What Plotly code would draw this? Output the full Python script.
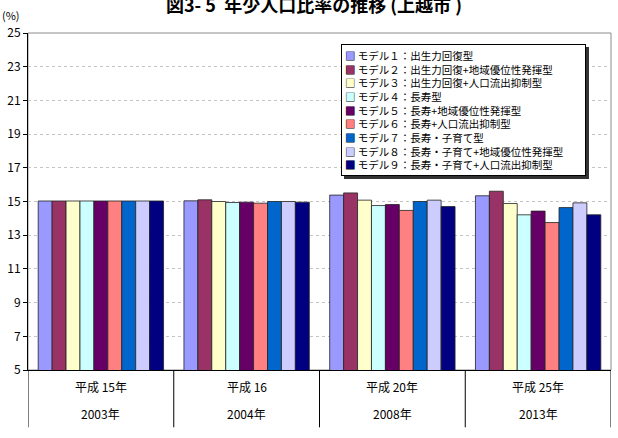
import plotly.graph_objects as go

years_wareki = ["平成 15年", "平成 16", "平成 20年", "平成 25年"]
years_ad = ["2003年", "2004年", "2008年", "2013年"]

model_names = [
    "モデル１：出生力回復型",
    "モデル２：出生力回復+地域優位性発揮型",
    "モデル３：出生力回復+人口流出抑制型",
    "モデル４：長寿型",
    "モデル５：長寿+地域優位性発揮型",
    "モデル６：長寿+人口流出抑制型",
    "モデル７：長寿・子育て型",
    "モデル８：長寿・子育て+地域優位性発揮型",
    "モデル９：長寿・子育て+人口流出抑制型",
]
colors = ["#9999FF", "#993366", "#FFFFCC", "#CCFFFF", "#660066",
          "#FF8080", "#0066CC", "#CCCCFF", "#000080"]

m1 = [15.03, 15.04, 15.38, 15.34]
m2 = [15.03, 15.10, 15.51, 15.61]
m3 = [15.03, 15.00, 15.08, 14.88]
m4 = [15.03, 14.94, 14.76, 14.21]
m5 = [15.03, 14.96, 14.82, 14.43]
m6 = [15.03, 14.90, 14.47, 13.75]
m7 = [15.03, 15.00, 15.00, 14.64]
m8 = [15.03, 15.00, 15.08, 14.92]
m9 = [15.03, 14.96, 14.70, 14.21]
series = [m1, m2, m3, m4, m5, m6, m7, m8, m9]

font_family = "Noto Sans CJK JP, sans-serif"
x_idx = list(range(len(years_ad)))

fig = go.Figure()
for name, col, vals in zip(model_names, colors, series):
    fig.add_trace(go.Bar(
        x=x_idx, y=vals, name=name, marker_color=col,
        marker_line_color="#222222", marker_line_width=0.8,
        showlegend=False,
    ))

# plot frame (top/right gray)
fig.add_shape(type="rect", xref="paper", yref="paper", x0=0, x1=1, y0=0, y1=1,
              line=dict(color="#8c8c8c", width=1), layer="below")

# category separators below axis
for b in [-0.5, 0.5, 1.5, 2.5, 3.5]:
    fig.add_shape(type="line", xref="x", yref="paper", x0=b, x1=b, y0=0, y1=-0.17,
                  line=dict(color="#000000", width=1))

annotations = []
for i, (w, a) in enumerate(zip(years_wareki, years_ad)):
    annotations.append(dict(x=i, y=-0.0504, xref="x", yref="paper", text=w,
                            showarrow=False, yanchor="middle",
                            font=dict(size=12, color="#000000", family=font_family)))
    annotations.append(dict(x=i, y=-0.1276, xref="x", yref="paper", text=a,
                            showarrow=False, yanchor="middle",
                            font=dict(size=12, color="#000000", family=font_family)))

# title, unit, note
annotations.append(dict(x=0.49, y=1.087, xref="paper", yref="paper",
                        text="<b>図3- 5  年少人口比率の推移 (上越市 )</b>", showarrow=False,
                        yanchor="middle", font=dict(size=18, color="#000000", family=font_family)))
annotations.append(dict(x=-0.010, y=1.053, xref="paper", yref="paper", text="(%)",
                        showarrow=False, xanchor="right", yanchor="middle",
                        font=dict(size=11, color="#000000", family=font_family)))
annotations.append(dict(x=0.012, y=-0.2196, xref="paper", yref="paper",
                        text="(注) 2003 (平成 15) 年は実績値", showarrow=False,
                        xanchor="left", yanchor="middle",
                        font=dict(size=12, color="#000000", family=font_family)))

# legend box built from the series names / colours
leg_lines = [f"<span style='color:{c}'>■</span> {n}" for n, c in zip(model_names, colors)]
leg_text = "<br>".join(leg_lines)
box_lines = "<br>".join(["□" for _ in model_names])
lx, ly = 0.537, 0.967
legw = 237
annotations.append(dict(x=lx, y=ly, xref="paper", yref="paper", text=leg_text,
                        showarrow=False, xanchor="left", yanchor="top", align="left",
                        width=legw, xshift=3, yshift=-3, bgcolor="#333333", bordercolor="#333333",
                        borderwidth=1, borderpad=3,
                        font=dict(size=10.5, color="rgba(0,0,0,0)", family=font_family)))
annotations.append(dict(x=lx, y=ly, xref="paper", yref="paper", text=leg_text,
                        showarrow=False, xanchor="left", yanchor="top", align="left",
                        width=legw, bgcolor="#FFFFFF", bordercolor="#000000", borderwidth=1, borderpad=3,
                        font=dict(size=10.5, color="#000000", family=font_family)))
annotations.append(dict(x=lx, y=ly, xref="paper", yref="paper", text=box_lines,
                        showarrow=False, xanchor="left", yanchor="top", align="left",
                        width=legw, bordercolor="rgba(0,0,0,0)", borderwidth=1, borderpad=3,
                        font=dict(size=10.5, color="#000000", family=font_family)))

fig.update_layout(
    width=618, height=438,
    margin=dict(l=19, r=7, t=33, b=68),
    paper_bgcolor="#FFFFFF", plot_bgcolor="#FFFFFF",
    barmode="group", bargap=0.14, bargroupgap=0,
    font=dict(family=font_family, size=12, color="#000000"),
    annotations=annotations,
    xaxis=dict(range=[-0.5, 3.5], tickvals=x_idx, showticklabels=False,
               showline=True, linecolor="#000000", linewidth=1, ticks="",
               showgrid=False, zeroline=False, fixedrange=True),
    yaxis=dict(range=[5, 25], dtick=2, tick0=5, showline=True, linecolor="#000000",
               linewidth=1, ticks="outside", ticklen=4, tickcolor="#000000",
               showgrid=True, gridcolor="#c4c4c4", griddash="dot", gridwidth=1,
               zeroline=False, tickfont=dict(size=12), fixedrange=True),
)

fig.write_html("out.html")
